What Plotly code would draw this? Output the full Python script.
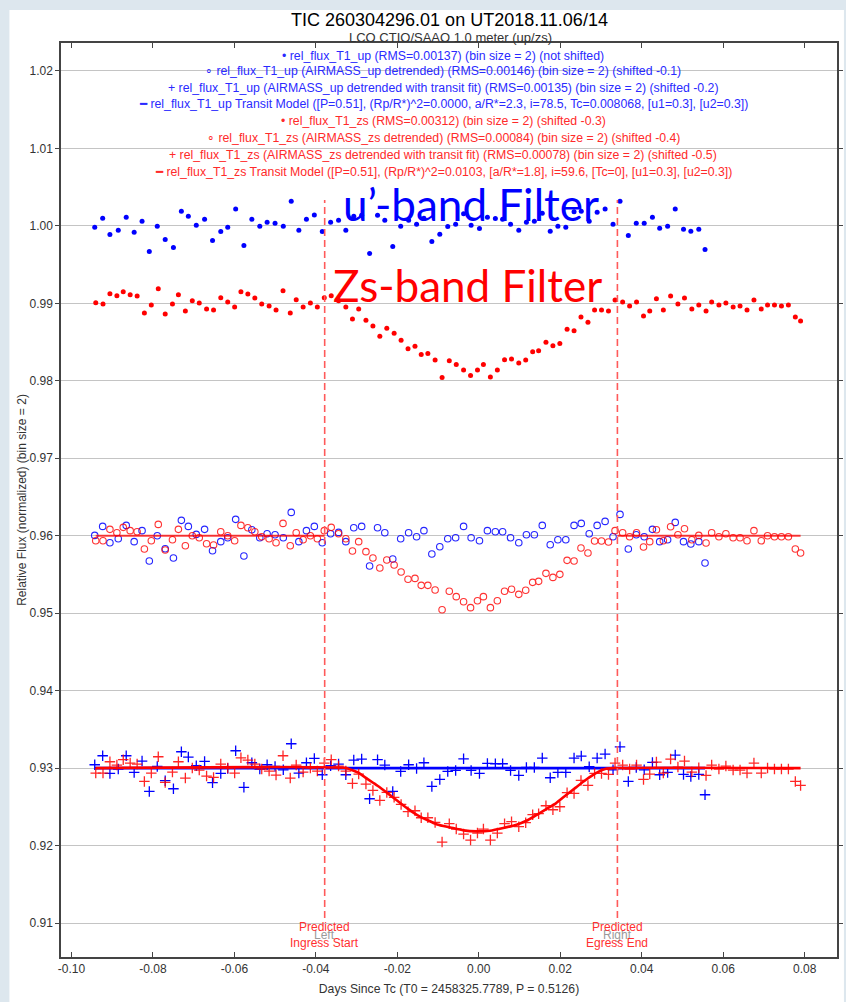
import plotly.graph_objects as go

# ---------------- data ----------------
UP_TIME = [
    -0.09428, -0.09233, -0.09055, -0.08850, -0.08655, -0.08460, -0.08266, -0.08088, -0.07893, -0.07698,
    -0.07496, -0.07301, -0.07130, -0.06935, -0.06731, -0.06536, -0.06334, -0.06163, -0.05968, -0.05766,
    -0.05571, -0.05376, -0.05196, -0.05001, -0.04799, -0.04604, -0.04417, -0.04231, -0.04037, -0.03842,
    -0.03637, -0.03442, -0.03264, -0.03069, -0.02875, -0.02680, -0.02485, -0.02307, -0.02112, -0.01917,
    -0.01722, -0.01527, -0.01347, -0.01152, -0.00957, -0.00762, -0.00568, -0.00373, -0.00188, 0.00017,
    0.00212, 0.00407, 0.00585, 0.00780, 0.00982, 0.01169, 0.01364, 0.01559, 0.01754, 0.01942,
    0.02136, 0.02339, 0.02516, 0.02711, 0.02906, 0.03101, 0.03296, 0.03467, 0.03671, 0.03866,
    0.04061, 0.04263, 0.04441, 0.04636, 0.04823, 0.05026, 0.05206, 0.05401, 0.05554,
]
UP_RAW = [
    0.99983, 1.00099, 0.99888, 0.99944, 1.00112, 0.99918, 1.00060, 0.99669, 0.99996, 0.99824,
    0.99720, 1.00189, 1.00125, 1.00009, 1.00086, 0.99811, 0.99927, 0.99983, 1.00219, 0.99746,
    1.00086, 0.99996, 1.00047, 1.00034, 0.99996, 1.00318, 0.99944, 1.00086, 1.00142, 0.99927,
    1.00047, 1.00073, 0.99944, 1.00125, 1.00138, 0.99643, 1.00138, 1.00073, 0.99733, 0.99996,
    1.00073, 1.00022, 1.00099, 0.99798, 0.99892, 0.99991, 1.00022, 1.00155, 1.00009, 0.99966,
    1.00112, 1.00095, 1.00086, 1.00022, 0.99944, 1.00047, 1.00060, 1.00163, 0.99931, 0.99996,
    0.99983, 1.00181, 1.00189, 1.00060, 1.00176, 1.00219, 1.00022, 1.00318, 0.99875, 1.00034,
    1.00034, 1.00112, 0.99970, 0.99996, 1.00219, 0.99957, 0.99931, 0.99957, 0.99695,
]
UP_DETR = [
    0.96004, 0.96120, 0.95910, 0.95961, 0.96133, 0.95923, 0.96065, 0.95673, 0.96000, 0.95832,
    0.95712, 0.96198, 0.96120, 0.96017, 0.96082, 0.95806, 0.95923, 0.95974, 0.96211, 0.95738,
    0.96077, 0.95974, 0.96026, 0.96013, 0.95974, 0.96301, 0.95923, 0.96065, 0.96120, 0.95910,
    0.96026, 0.96043, 0.95923, 0.96103, 0.96120, 0.95609, 0.96103, 0.96039, 0.95699, 0.95961,
    0.96039, 0.95987, 0.96065, 0.95763, 0.95858, 0.95961, 0.95974, 0.96120, 0.95974, 0.95935,
    0.96065, 0.96052, 0.96052, 0.95974, 0.95910, 0.96013, 0.96013, 0.96133, 0.95884, 0.95948,
    0.95948, 0.96133, 0.96159, 0.96026, 0.96133, 0.96185, 0.95987, 0.96275, 0.95828, 0.96013,
    0.95987, 0.96082, 0.95923, 0.95948, 0.96172, 0.95923, 0.95892, 0.95923, 0.95647,
]
UP_FIT = [
    0.93043, 0.93159, 0.92931, 0.92987, 0.93159, 0.92944, 0.93090, 0.92699, 0.93022, 0.92837,
    0.92733, 0.93211, 0.93142, 0.93030, 0.93086, 0.92811, 0.92931, 0.92996, 0.93224, 0.92751,
    0.93069, 0.92987, 0.93043, 0.93022, 0.92978, 0.93314, 0.92935, 0.93069, 0.93125, 0.92914,
    0.93030, 0.93052, 0.92914, 0.93103, 0.93116, 0.92604, 0.93108, 0.93039, 0.92699, 0.92957,
    0.93043, 0.92996, 0.93069, 0.92763, 0.92854, 0.92957, 0.92970, 0.93120, 0.92970, 0.92931,
    0.93060, 0.93056, 0.93056, 0.92970, 0.92905, 0.93009, 0.93009, 0.93129, 0.92875, 0.92944,
    0.92944, 0.93129, 0.93155, 0.93017, 0.93129, 0.93181, 0.92978, 0.93275, 0.92828, 0.93009,
    0.92978, 0.93073, 0.92914, 0.92944, 0.93168, 0.92918, 0.92892, 0.92918, 0.92656,
]
UP_MODEL_TIME = [-0.09428, 0.05554]
UP_MODEL_FLUX = [0.93, 0.93]

ZS_TIME = [
    -0.09403, -0.09225, -0.09055, -0.08884, -0.08728, -0.08558, -0.08387, -0.08209, -0.08039, -0.07868,
    -0.07698, -0.07520, -0.07374, -0.07203, -0.07033, -0.06862, -0.06682, -0.06511, -0.06334, -0.06163,
    -0.05993, -0.05839, -0.05669, -0.05498, -0.05328, -0.05147, -0.04977, -0.04806, -0.04628, -0.04482,
    -0.04312, -0.04134, -0.03963, -0.03793, -0.03622, -0.03442, -0.03264, -0.03101, -0.02948, -0.02770,
    -0.02599, -0.02429, -0.02258, -0.02078, -0.01907, -0.01737, -0.01566, -0.01413, -0.01250, -0.01072,
    -0.00901, -0.00724, -0.00553, -0.00373, -0.00202, -0.00032, 0.00114, 0.00285, 0.00456, 0.00633,
    0.00804, 0.00982, 0.01152, 0.01323, 0.01469, 0.01649, 0.01820, 0.01990, 0.02168, 0.02339,
    0.02509, 0.02680, 0.02843, 0.03013, 0.03184, 0.03345, 0.03532, 0.03703, 0.03873, 0.04044,
    0.04197, 0.04361, 0.04531, 0.04709, 0.04889, 0.05050, 0.05230, 0.05401, 0.05579, 0.05717,
    0.05895, 0.06066, 0.06244, 0.06414, 0.06585, 0.06755, 0.06935, 0.07089, 0.07259, 0.07430,
    0.07601, 0.07771, 0.07900,
]
ZS_RAW = [
    0.99009, 0.98991, 0.99125, 0.99099, 0.99151, 0.99112, 0.99095, 0.98875, 0.98978, 0.99189,
    0.98862, 0.98991, 0.99112, 0.98901, 0.99034, 0.99004, 0.98927, 0.98914, 0.99073, 0.99017,
    0.98953, 0.99151, 0.99120, 0.99069, 0.98991, 0.98966, 0.98914, 0.99163, 0.98875, 0.99047,
    0.98953, 0.99004, 0.98953, 0.99073, 0.99099, 0.99034, 0.98953, 0.98798, 0.98927, 0.98781,
    0.98708, 0.98574, 0.98677, 0.98613, 0.98523, 0.98415, 0.98445, 0.98338, 0.98351, 0.98269,
    0.98041, 0.98260, 0.98209, 0.98140, 0.98067, 0.98140, 0.98209, 0.98049, 0.98140, 0.98273,
    0.98282, 0.98230, 0.98269, 0.98376, 0.98389, 0.98497, 0.98454, 0.98480, 0.98665, 0.98647,
    0.98824, 0.98755, 0.98914, 0.98914, 0.98901, 0.99043, 0.99017, 0.98966, 0.99017, 0.98837,
    0.98901, 0.99060, 0.98914, 0.99095, 0.98991, 0.99069, 0.98927, 0.98978, 0.98901, 0.99017,
    0.98978, 0.99004, 0.98953, 0.98966, 0.98914, 0.99043, 0.98927, 0.98978, 0.98978, 0.98966,
    0.98978, 0.98824, 0.98772,
]
ZS_DETR = [
    0.95935, 0.95935, 0.96082, 0.96039, 0.96108, 0.96065, 0.96052, 0.95828, 0.95935, 0.96146,
    0.95815, 0.95948, 0.96082, 0.95871, 0.96000, 0.95974, 0.95897, 0.95880, 0.96052, 0.96000,
    0.95935, 0.96133, 0.96103, 0.96052, 0.95987, 0.95961, 0.95910, 0.96159, 0.95871, 0.96039,
    0.95948, 0.96000, 0.95961, 0.96065, 0.96108, 0.96026, 0.95961, 0.95802, 0.95923, 0.95794,
    0.95712, 0.95583, 0.95686, 0.95622, 0.95531, 0.95437, 0.95449, 0.95359, 0.95359, 0.95299,
    0.95045, 0.95282, 0.95213, 0.95148, 0.95071, 0.95161, 0.95213, 0.95071, 0.95161, 0.95282,
    0.95308, 0.95243, 0.95295, 0.95398, 0.95411, 0.95514, 0.95462, 0.95501, 0.95682, 0.95673,
    0.95841, 0.95776, 0.95931, 0.95931, 0.95918, 0.96065, 0.96039, 0.95987, 0.96039, 0.95854,
    0.95923, 0.96077, 0.95935, 0.96116, 0.96013, 0.96090, 0.95948, 0.96004, 0.95905, 0.96039,
    0.95987, 0.96026, 0.95974, 0.95974, 0.95935, 0.96065, 0.95935, 0.96000, 0.95987, 0.95987,
    0.95987, 0.95828, 0.95776,
]
ZS_FIT = [
    0.92935, 0.92935, 0.93082, 0.93039, 0.93108, 0.93065, 0.93052, 0.92828, 0.92935, 0.93146,
    0.92815, 0.92948, 0.93082, 0.92871, 0.93000, 0.92974, 0.92897, 0.92880, 0.93052, 0.93000,
    0.92935, 0.93133, 0.93103, 0.93052, 0.92987, 0.92961, 0.92910, 0.93159, 0.92871, 0.93039,
    0.92948, 0.93000, 0.92961, 0.93065, 0.93108, 0.93026, 0.92961, 0.92802, 0.92923, 0.92794,
    0.92712, 0.92583, 0.92686, 0.92622, 0.92531, 0.92437, 0.92449, 0.92359, 0.92359, 0.92299,
    0.92045, 0.92282, 0.92213, 0.92148, 0.92071, 0.92161, 0.92213, 0.92071, 0.92161, 0.92282,
    0.92308, 0.92243, 0.92295, 0.92398, 0.92411, 0.92514, 0.92462, 0.92501, 0.92682, 0.92673,
    0.92841, 0.92776, 0.92931, 0.92931, 0.92918, 0.93065, 0.93039, 0.92987, 0.93039, 0.92854,
    0.92923, 0.93077, 0.92935, 0.93116, 0.93013, 0.93090, 0.92948, 0.93004, 0.92905, 0.93039,
    0.92987, 0.93026, 0.92974, 0.92974, 0.92935, 0.93065, 0.92935, 0.93000, 0.92987, 0.92987,
    0.92987, 0.92828, 0.92776,
]
ZS_MODEL_TIME = [
    -0.09403, -0.03257, -0.03135, -0.02972, -0.02728, -0.02485, -0.02241, -0.01998, -0.01754, -0.01510,
    -0.01267, -0.01023, -0.00699, -0.00373, -0.00049, 0.00275, 0.00602, 0.00926, 0.01169, 0.01413,
    0.01657, 0.01900, 0.02144, 0.02387, 0.02631, 0.02875, 0.03118, 0.03289, 0.07900,
]
ZS_MODEL_FLUX = [
    0.93, 0.93, 0.92978, 0.92944, 0.92858, 0.92772, 0.92677, 0.92578, 0.92480, 0.92394,
    0.92329, 0.92273, 0.92234, 0.92196, 0.92183, 0.92191, 0.92226, 0.92269, 0.92320, 0.92394,
    0.92471, 0.92548, 0.92652, 0.92751, 0.92849, 0.92935, 0.92991, 0.93, 0.93,
]
ZS_DETR_BASELINE = 0.96

T_INGRESS = -0.03783
T_EGRESS = 0.03403

X_TICKS = [-0.10, -0.08, -0.06, -0.04, -0.02, 0.00, 0.02, 0.04, 0.06, 0.08]
X_TICK_TEXT = ["-0.10", "-0.08", "-0.06", "-0.04", "-0.02", "0.00", "0.02", "0.04", "0.06", "0.08"]
Y_TICKS = [0.91, 0.92, 0.93, 0.94, 0.95, 0.96, 0.97, 0.98, 0.99, 1.00, 1.01, 1.02]
Y_TICK_TEXT = ["0.91", "0.92", "0.93", "0.94", "0.95", "0.96", "0.97", "0.98", "0.99", "1.00", "1.01", "1.02"]

LEGEND_ENTRIES = [
    ("•", "rel_flux_T1_up (RMS=0.00137) (bin size = 2) (not shifted)", "up"),
    ("∘", "rel_flux_T1_up (AIRMASS_up detrended) (RMS=0.00146) (bin size = 2) (shifted -0.1)", "up"),
    ("+", "rel_flux_T1_up (AIRMASS_up detrended with transit fit) (RMS=0.00135) (bin size = 2) (shifted -0.2)", "up"),
    ("━", "rel_flux_T1_up Transit Model ([P=0.51], (Rp/R*)^2=0.0000, a/R*=2.3, i=78.5, Tc=0.008068, [u1=0.3], [u2=0.3])", "up"),
    ("•", "rel_flux_T1_zs (RMS=0.00312) (bin size = 2) (shifted -0.3)", "zs"),
    ("∘", "rel_flux_T1_zs (AIRMASS_zs detrended) (RMS=0.00084) (bin size = 2) (shifted -0.4)", "zs"),
    ("+", "rel_flux_T1_zs (AIRMASS_zs detrended with transit fit) (RMS=0.00078) (bin size = 2) (shifted -0.5)", "zs"),
    ("━", "rel_flux_T1_zs Transit Model ([P=0.51], (Rp/R*)^2=0.0103, [a/R*=1.8], i=59.6, [Tc=0], [u1=0.3], [u2=0.3])", "zs"),
]

# ---------------- style ----------------
BLUE = "#0000ff"
RED = "#ff0000"
TXT_BLUE = "#2a2aff"
TXT_RED = "#ff2a2a"
FONT = "Liberation Sans, Arial, sans-serif"
BIG = "Lato, Open Sans, sans-serif"
W, H = 846, 1002
L, R, T, B = 61, 3, 43, 45
PW, PH = W - L - R, H - T - B


def px_x(p):
    return (p - L) / PW


def px_y(p):
    return (H - B - p) / PH


fig = go.Figure()

# blue (u') series
fig.add_trace(go.Scatter(x=UP_TIME, y=UP_RAW, mode="markers", name="up raw",
                         marker=dict(symbol="circle", size=5, color=BLUE)))
fig.add_trace(go.Scatter(x=UP_TIME, y=UP_DETR, mode="markers", name="up detrended",
                         marker=dict(symbol="circle-open", size=6.5, color=BLUE, line=dict(width=1.1)),
                         opacity=0.85))
fig.add_trace(go.Scatter(x=UP_TIME, y=UP_FIT, mode="markers", name="up fit",
                         marker=dict(symbol="cross-thin-open", size=7.5, color=BLUE, line=dict(width=1.3, color=BLUE))))
fig.add_trace(go.Scatter(x=UP_MODEL_TIME, y=UP_MODEL_FLUX, mode="lines", name="up model",
                         line=dict(color=BLUE, width=2.6)))

# red (zs) series
fig.add_trace(go.Scatter(x=ZS_TIME, y=ZS_RAW, mode="markers", name="zs raw",
                         marker=dict(symbol="circle", size=5, color=RED)))
fig.add_trace(go.Scatter(x=ZS_TIME, y=ZS_DETR, mode="markers", name="zs detrended",
                         marker=dict(symbol="circle-open", size=6.5, color=RED, line=dict(width=1.1)),
                         opacity=0.8))
fig.add_trace(go.Scatter(x=[ZS_TIME[0], T_INGRESS, None, T_EGRESS, ZS_TIME[-1]],
                         y=[ZS_DETR_BASELINE, ZS_DETR_BASELINE, None, ZS_DETR_BASELINE, ZS_DETR_BASELINE],
                         mode="lines", name="zs detrended baseline",
                         line=dict(color=RED, width=2), opacity=0.75))
fig.add_trace(go.Scatter(x=ZS_TIME, y=ZS_FIT, mode="markers", name="zs fit",
                         marker=dict(symbol="cross-thin-open", size=7.5, color=RED, line=dict(width=1.3, color=RED)),
                         opacity=0.85))
fig.add_trace(go.Scatter(x=ZS_MODEL_TIME, y=ZS_MODEL_FLUX, mode="lines", name="zs model",
                         line=dict(color=RED, width=2.6, shape="spline", smoothing=0.6)))

# ---------------- shapes ----------------
shapes = [
    # white panel over the pale-blue page
    dict(type="rect", xref="paper", yref="paper", layer="below",
         x0=px_x(9), x1=px_x(850), y0=px_y(1010), y1=px_y(10),
         fillcolor="white", line=dict(width=0)),
]
for t in (T_INGRESS, T_EGRESS):
    shapes.append(dict(type="line", xref="x", yref="paper", x0=t, x1=t,
                       y0=px_y(918), y1=px_y(200),
                       line=dict(color="#ff5a5a", width=1.6, dash="7px,4px")))

# ---------------- annotations ----------------
ann = []
ann.append(dict(text="TIC 260304296.01 on UT2018.11.06/14", xref="paper", yref="paper",
                x=px_x(452), y=px_y(20), showarrow=False, xanchor="center", yanchor="middle",
                font=dict(family=FONT, size=18, color="black")))
ann.append(dict(text="LCO CTIO/SAAO 1.0 meter (up/zs)", xref="paper", yref="paper",
                x=px_x(454), y=px_y(37), showarrow=False, xanchor="center", yanchor="middle",
                font=dict(family=FONT, size=13, color="#333333")))

leg_y = [56, 71.5, 88, 104.5, 121, 137.5, 154.5, 171.5]
for (sym, label, band), yy in zip(LEGEND_ENTRIES, leg_y):
    col = TXT_BLUE if band == "up" else TXT_RED
    ann.append(dict(text=f"{sym} {label}", xref="paper", yref="paper",
                    x=px_x(446), y=px_y(yy), showarrow=False, xanchor="center", yanchor="middle",
                    font=dict(family=FONT, size=12.3, color=col)))

ann.append(dict(text="u\u2019-band Filter", xref="paper", yref="paper",
                x=px_x(474), y=px_y(204), showarrow=False, xanchor="center", yanchor="middle",
                font=dict(family=BIG, size=44, color=BLUE)))
ann.append(dict(text="Zs-band Filter", xref="paper", yref="paper",
                x=px_x(471), y=px_y(285), showarrow=False, xanchor="center", yanchor="middle",
                font=dict(family=BIG, size=44, color=RED)))

for t, side, label in ((T_INGRESS, "Left", "Ingress Start"), (T_EGRESS, "Right", "Egress End")):
    ann.append(dict(text=side, xref="x", yref="paper", x=t, y=px_y(935), showarrow=False,
                    xanchor="center", yanchor="middle", font=dict(family=FONT, size=12, color="#9a9a9a")))
    ann.append(dict(text="Predicted", xref="x", yref="paper", x=t, y=px_y(927), showarrow=False,
                    xanchor="center", yanchor="middle", font=dict(family=FONT, size=12, color="#ff3030")))
    ann.append(dict(text=label, xref="x", yref="paper", x=t, y=px_y(943), showarrow=False,
                    xanchor="center", yanchor="middle", font=dict(family=FONT, size=12, color="#ff3030")))

fig.update_layout(
    width=W, height=H,
    margin=dict(l=L, r=R, t=T, b=B),
    paper_bgcolor="#dde7ee",
    plot_bgcolor="white",
    showlegend=False,
    shapes=shapes,
    annotations=ann,
    font=dict(family=FONT, size=12, color="#333333"),
)
fig.update_xaxes(
    range=[-0.10256, 0.08794], tickmode="array", tickvals=X_TICKS, ticktext=X_TICK_TEXT,
    showgrid=False, zeroline=False, showline=True, linecolor="#444444", linewidth=1.5,
    mirror="ticks", ticks="inside", ticklen=5, tickcolor="#444444",
    tickfont=dict(family=FONT, size=12, color="#333333"),
    title=dict(text="Days Since Tc (T0 = 2458325.7789, P = 0.5126)", standoff=9,
               font=dict(family=FONT, size=12.2, color="#333333")),
)
fig.update_yaxes(
    range=[0.90561, 1.02361], tickmode="array", tickvals=Y_TICKS, ticktext=Y_TICK_TEXT,
    showgrid=True, gridcolor="#c4c4c4", gridwidth=1, zeroline=False,
    showline=True, linecolor="#444444", linewidth=1.5,
    mirror="ticks", ticks="outside", ticklen=4, tickcolor="#444444",
    tickfont=dict(family=FONT, size=12, color="#333333"),
    title=dict(text="Relative Flux (normalized) (bin size = 2)", standoff=0,
               font=dict(family=FONT, size=12, color="#333333")),
)

fig.write_html("out.html")
